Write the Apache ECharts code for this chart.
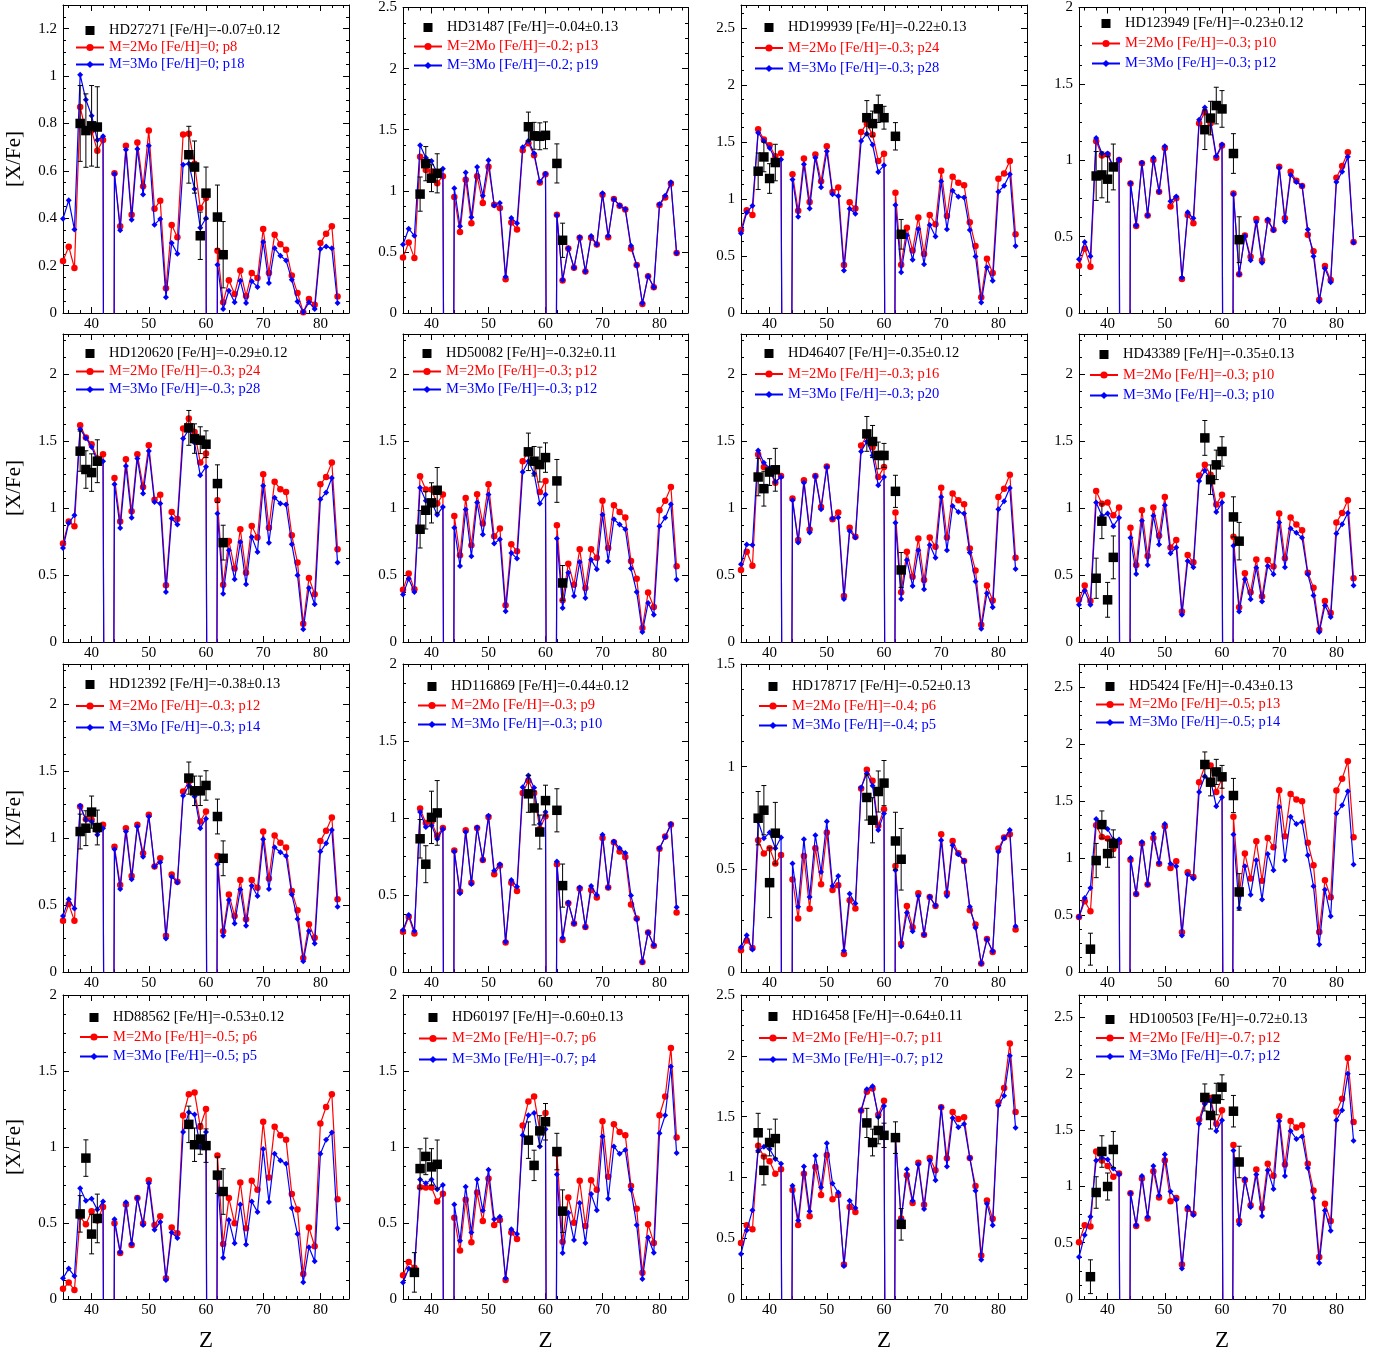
<!DOCTYPE html>
<html><head><meta charset="utf-8">
<script src="https://cdn.jsdelivr.net/npm/echarts@6/dist/echarts.min.js"></script>
<style>html,body{margin:0;padding:0;background:#fff}#c{width:1390px;height:1353px}</style>
</head><body><div id="c"></div>
<script>
// Atomic number Z of the model points
const Z = [35,36,37,38,39,40,41,42,43,44,45,46,47,48,49,50,51,52,53,54,55,56,57,58,59,60,61,62,63,64,65,66,67,68,69,70,71,72,73,74,75,76,77,78,79,80,81,82,83];

// Panel 1 HD27271
const red1 = [0.22,0.28,0.19,0.87,0.765,0.77,0.685,0.73,-10,0.59,0.366,0.706,0.415,0.72,0.535,0.77,0.44,0.474,0.104,0.371,0.32,0.753,0.757,0.63,0.443,0.485,-10,0.263,0.045,0.138,0.08,0.179,0.072,0.169,0.148,0.355,0.169,0.33,0.29,0.267,0.158,0.084,0.003,0.059,0.035,0.295,0.335,0.366,0.07];
const blue1 = [0.398,0.476,0.352,1.006,0.90,0.833,0.73,0.746,-10,0.587,0.349,0.689,0.394,0.692,0.50,0.706,0.373,0.397,0.066,0.295,0.25,0.626,0.63,0.523,0.36,0.40,-10,0.204,0.017,0.094,0.045,0.136,0.042,0.134,0.11,0.30,0.127,0.273,0.242,0.222,0.14,0.049,0.004,0.045,0.017,0.27,0.281,0.273,0.042];
const obsZ1 = [38,39,40,41,57,58,59,60,62,63];
const obsV1 = [0.80,0.77,0.79,0.785,0.668,0.616,0.326,0.506,0.405,0.246];
const obsE1 = [0.16,0.155,0.17,0.17,0.12,0.11,0.10,0.11,0.135,0.14];

// Panel 2 HD31487
const red2 = [0.454,0.576,0.451,1.278,1.17,1.157,1.062,1.12,-10,0.95,0.662,1.09,0.735,1.12,0.90,1.197,0.886,0.86,0.276,0.74,0.684,1.332,1.39,1.29,1.068,1.135,-10,0.803,0.265,0.527,0.37,0.616,0.34,0.616,0.56,0.967,0.62,0.932,0.878,0.846,0.527,0.392,0.073,0.30,0.21,0.884,0.946,1.06,0.49];
const blue2 = [0.56,0.69,0.632,1.373,1.27,1.243,1.143,1.18,-10,1.02,0.71,1.15,0.784,1.195,0.96,1.25,0.88,0.90,0.297,0.778,0.735,1.357,1.41,1.308,1.076,1.14,-10,0.80,0.27,0.53,0.37,0.62,0.34,0.63,0.56,0.98,0.63,0.93,0.88,0.85,0.55,0.39,0.08,0.30,0.21,0.89,0.96,1.07,0.49];
const obsZ2 = [38,39,40,41,57,58,59,60,62,63];
const obsV2 = [0.973,1.222,1.103,1.143,1.524,1.45,1.446,1.454,1.224,0.595];
const obsE2 = [0.14,0.14,0.11,0.16,0.12,0.11,0.11,0.11,0.16,0.14];

// Panel 3 HD199939
const red3 = [0.728,0.90,0.86,1.61,1.52,1.47,1.374,1.40,-10,1.217,0.897,1.354,0.972,1.39,1.156,1.461,1.06,1.10,0.42,0.97,0.917,1.587,1.66,1.563,1.333,1.397,-10,1.054,0.422,0.748,0.547,0.838,0.518,0.859,0.777,1.246,0.85,1.194,1.141,1.12,0.795,0.588,0.137,0.475,0.35,1.176,1.223,1.333,0.69];
const blue3 = [0.699,0.882,0.94,1.581,1.508,1.447,1.348,1.345,-10,1.17,0.844,1.304,0.917,1.362,1.103,1.418,1.042,1.025,0.373,0.914,0.87,1.508,1.572,1.476,1.237,1.295,-10,0.946,0.358,0.681,0.466,0.737,0.428,0.771,0.67,1.156,0.734,1.071,1.019,1.013,0.728,0.495,0.093,0.402,0.282,1.063,1.115,1.217,0.588];
const obsZ3 = [38,39,40,41,57,58,59,60,62,63];
const obsV3 = [1.243,1.368,1.179,1.319,1.712,1.66,1.79,1.712,1.549,0.69];
const obsE3 = [0.16,0.13,0.13,0.16,0.15,0.11,0.12,0.10,0.12,0.13];

// Panel 4 HD123949
const red4 = [0.309,0.42,0.303,1.124,1.031,1.038,0.951,1.001,-10,0.848,0.569,0.98,0.638,1.001,0.794,1.081,0.698,0.752,0.223,0.642,0.588,1.243,1.315,1.243,1.016,1.096,-10,0.783,0.253,0.508,0.368,0.616,0.346,0.605,0.545,0.958,0.62,0.925,0.865,0.832,0.512,0.404,0.086,0.307,0.216,0.886,0.962,1.053,0.465];
const blue4 = [0.352,0.465,0.372,1.146,1.044,1.044,0.958,1.005,-10,0.85,0.573,0.984,0.638,1.016,0.794,1.092,0.731,0.763,0.231,0.659,0.62,1.265,1.345,1.26,1.027,1.103,-10,0.778,0.253,0.504,0.346,0.595,0.329,0.612,0.541,0.951,0.599,0.904,0.858,0.832,0.547,0.372,0.076,0.292,0.201,0.858,0.925,1.023,0.461];
const obsZ4 = [38,39,40,41,57,58,59,60,62,63];
const obsV4 = [0.897,0.904,0.876,0.956,1.2,1.276,1.358,1.336,1.044,0.48];
const obsE4 = [0.16,0.15,0.15,0.15,0.13,0.11,0.12,0.12,0.13,0.15];

// Panel 5 HD120620
const red5 = [0.735,0.90,0.864,1.619,1.527,1.477,1.37,1.402,-10,1.225,0.90,1.365,0.976,1.402,1.158,1.469,1.063,1.10,0.423,0.971,0.919,1.594,1.669,1.569,1.34,1.407,-10,1.059,0.428,0.755,0.548,0.842,0.518,0.867,0.78,1.253,0.854,1.196,1.141,1.121,0.797,0.593,0.137,0.478,0.356,1.178,1.233,1.34,0.692];
const blue5 = [0.702,0.889,0.946,1.589,1.524,1.457,1.35,1.35,-10,1.178,0.852,1.315,0.927,1.37,1.108,1.427,1.046,1.034,0.374,0.922,0.877,1.519,1.587,1.487,1.245,1.308,-10,0.959,0.361,0.685,0.468,0.747,0.431,0.785,0.672,1.166,0.742,1.078,1.034,1.026,0.73,0.498,0.095,0.403,0.281,1.066,1.116,1.225,0.593];
const obsZ5 = [38,39,40,41,57,58,59,60,62,63];
const obsV5 = [1.425,1.288,1.265,1.35,1.599,1.519,1.507,1.477,1.183,0.742];
const obsE5 = [0.15,0.14,0.14,0.16,0.13,0.11,0.10,0.10,0.14,0.13];

// Panel 6 HD50082
const red6 = [0.391,0.511,0.394,1.238,1.138,1.138,1.034,1.101,-10,0.941,0.648,1.076,0.722,1.103,0.884,1.178,0.789,0.847,0.274,0.73,0.677,1.35,1.427,1.35,1.121,1.203,-10,0.872,0.311,0.585,0.428,0.692,0.403,0.692,0.63,1.054,0.702,1.021,0.971,0.929,0.605,0.473,0.105,0.369,0.262,0.984,1.054,1.158,0.565];
const blue6 = [0.354,0.473,0.374,1.151,1.054,1.046,0.951,1.009,-10,0.854,0.568,0.989,0.64,1.041,0.802,1.101,0.735,0.767,0.229,0.665,0.623,1.27,1.35,1.258,1.034,1.101,-10,0.772,0.254,0.518,0.344,0.598,0.329,0.615,0.543,0.951,0.603,0.917,0.877,0.842,0.548,0.374,0.075,0.291,0.204,0.864,0.927,1.029,0.466];
const obsZ6 = [38,39,40,41,57,58,59,60,62,63];
const obsV6 = [0.842,0.984,1.039,1.133,1.42,1.35,1.325,1.377,1.203,0.441];
const obsE6 = [0.14,0.14,0.15,0.17,0.14,0.11,0.13,0.11,0.16,0.13];

// Panel 7 HD46407
const red7 = [0.538,0.674,0.57,1.40,1.306,1.281,1.19,1.239,-10,1.071,0.761,1.207,0.84,1.239,1.009,1.311,0.917,0.967,0.344,0.853,0.786,1.467,1.542,1.455,1.232,1.306,-10,0.967,0.372,0.674,0.488,0.773,0.463,0.781,0.711,1.152,0.781,1.108,1.058,1.029,0.699,0.533,0.129,0.421,0.31,1.083,1.145,1.249,0.629];
const blue7 = [0.58,0.729,0.724,1.43,1.338,1.299,1.195,1.232,-10,1.058,0.743,1.19,0.818,1.237,0.991,1.306,0.922,0.929,0.322,0.828,0.781,1.423,1.497,1.393,1.17,1.232,-10,0.89,0.322,0.612,0.419,0.686,0.394,0.724,0.629,1.083,0.686,1.016,0.971,0.959,0.669,0.451,0.099,0.364,0.26,0.991,1.051,1.15,0.545];
const obsZ7 = [38,39,40,41,57,58,59,60,62,63];
const obsV7 = [1.232,1.145,1.269,1.286,1.554,1.497,1.393,1.393,1.125,0.538];
const obsE7 = [0.14,0.13,0.10,0.16,0.13,0.12,0.10,0.09,0.12,0.13];

// Panel 8 HD43389
const red8 = [0.315,0.421,0.307,1.128,1.033,1.041,0.947,1.004,-10,0.853,0.575,0.984,0.642,1.004,0.793,1.083,0.706,0.761,0.228,0.649,0.595,1.244,1.323,1.249,1.026,1.10,-10,0.786,0.26,0.513,0.372,0.617,0.34,0.612,0.563,0.959,0.625,0.929,0.877,0.835,0.518,0.406,0.092,0.307,0.216,0.892,0.964,1.058,0.476];
const blue8 = [0.278,0.382,0.278,1.041,0.942,0.959,0.865,0.927,-10,0.778,0.508,0.905,0.575,0.942,0.729,1.021,0.662,0.706,0.203,0.605,0.558,1.202,1.281,1.212,0.971,1.041,-10,0.719,0.228,0.468,0.32,0.555,0.302,0.568,0.506,0.892,0.558,0.848,0.815,0.778,0.506,0.347,0.074,0.273,0.186,0.81,0.88,0.964,0.421];
const obsZ8 = [38,39,40,41,57,58,59,60,62,63];
const obsV8 = [0.476,0.902,0.315,0.632,1.524,1.212,1.323,1.423,0.934,0.753];
const obsE8 = [0.15,0.13,0.13,0.16,0.13,0.11,0.11,0.11,0.15,0.14];

// Panel 9 HD12392
const red9 = [0.382,0.507,0.382,1.236,1.141,1.136,1.061,1.099,-10,0.936,0.649,1.074,0.717,1.099,0.886,1.174,0.787,0.849,0.27,0.729,0.674,1.348,1.423,1.348,1.124,1.199,-10,0.866,0.305,0.579,0.419,0.687,0.394,0.687,0.629,1.049,0.699,1.019,0.966,0.929,0.604,0.462,0.105,0.357,0.255,0.979,1.054,1.154,0.544];
const blue9 = [0.419,0.544,0.474,1.241,1.136,1.124,1.024,1.074,-10,0.916,0.619,1.049,0.692,1.086,0.861,1.161,0.787,0.819,0.25,0.712,0.669,1.316,1.391,1.311,1.074,1.144,-10,0.804,0.27,0.537,0.362,0.617,0.345,0.644,0.567,0.991,0.619,0.931,0.894,0.866,0.579,0.395,0.08,0.307,0.212,0.899,0.961,1.061,0.487];
const obsZ9 = [38,39,40,41,57,58,59,60,62,63];
const obsV9 = [1.049,1.074,1.194,1.079,1.448,1.353,1.353,1.393,1.161,0.849];
const obsE9 = [0.13,0.13,0.12,0.13,0.12,0.11,0.11,0.11,0.13,0.13];

// Panel 10 HD116869
const red10 = [0.261,0.359,0.25,1.061,0.967,0.974,0.885,0.935,-10,0.789,0.522,0.92,0.58,0.935,0.728,1.007,0.635,0.691,0.191,0.58,0.526,1.163,1.243,1.163,0.928,1.011,-10,0.70,0.207,0.446,0.315,0.543,0.293,0.533,0.483,0.87,0.548,0.843,0.783,0.746,0.439,0.348,0.065,0.257,0.17,0.80,0.88,0.957,0.387];
const blue10 = [0.272,0.37,0.267,1.039,0.941,0.952,0.863,0.928,-10,0.783,0.511,0.909,0.572,0.939,0.728,1.015,0.657,0.70,0.196,0.598,0.554,1.20,1.276,1.196,0.963,1.039,-10,0.717,0.222,0.452,0.315,0.548,0.293,0.559,0.50,0.891,0.548,0.848,0.804,0.772,0.496,0.343,0.065,0.257,0.174,0.804,0.876,0.961,0.42];
const obsZ10 = [38,39,40,41,57,58,59,60,62,63];
const obsV10 = [0.865,0.70,1.004,1.033,1.157,1.065,0.909,1.113,1.05,0.561];
const obsE10 = [0.125,0.12,0.17,0.21,0.12,0.11,0.11,0.10,0.14,0.14];

// Panel 11 HD178717
const red11 = [0.106,0.153,0.117,0.642,0.577,0.603,0.528,0.57,-10,0.451,0.261,0.565,0.308,0.603,0.427,0.679,0.399,0.422,0.088,0.349,0.309,0.894,0.985,0.932,0.712,0.793,-10,0.516,0.137,0.321,0.218,0.383,0.182,0.365,0.321,0.671,0.383,0.638,0.578,0.541,0.301,0.231,0.041,0.161,0.098,0.601,0.655,0.671,0.207];
const blue11 = [0.121,0.179,0.109,0.733,0.651,0.679,0.603,0.655,-10,0.529,0.318,0.647,0.365,0.666,0.487,0.733,0.419,0.467,0.104,0.381,0.334,0.899,0.967,0.907,0.692,0.772,-10,0.495,0.125,0.288,0.199,0.37,0.182,0.366,0.324,0.642,0.37,0.617,0.573,0.541,0.318,0.215,0.041,0.158,0.101,0.586,0.651,0.691,0.223];
const obsZ11 = [38,39,40,41,57,58,59,60,62,63];
const obsV11 = [0.749,0.788,0.435,0.676,0.85,0.739,0.879,0.92,0.638,0.549];
const obsE11 = [0.13,0.12,0.17,0.15,0.11,0.11,0.10,0.11,0.14,0.15];

// Panel 12 HD5424
const red12 = [0.482,0.62,0.532,1.287,1.184,1.17,1.079,1.14,-10,0.985,0.684,1.126,0.766,1.175,0.95,1.278,0.912,0.971,0.348,0.874,0.833,1.664,1.804,1.81,1.579,1.696,-10,1.36,0.684,1.038,0.819,1.146,0.801,1.175,1.094,1.594,1.19,1.561,1.512,1.497,1.132,0.936,0.351,0.804,0.655,1.591,1.693,1.848,1.181];
const blue12 = [0.482,0.649,0.737,1.342,1.287,1.254,1.161,1.161,-10,1.0,0.684,1.14,0.766,1.213,0.956,1.298,0.95,0.927,0.319,0.854,0.819,1.579,1.716,1.681,1.453,1.532,-10,1.205,0.561,0.927,0.678,0.98,0.635,1.035,0.892,1.447,0.98,1.36,1.298,1.316,1.023,0.751,0.24,0.722,0.488,1.389,1.462,1.585,0.942];
const obsZ12 = [37,38,39,40,41,57,58,59,60,62,63];
const obsV12 = [0.20,0.977,1.292,1.038,1.126,1.819,1.664,1.754,1.711,1.547,0.702];
const obsE12 = [0.14,0.15,0.12,0.12,0.12,0.11,0.12,0.11,0.10,0.15,0.16];

// Panel 13 HD88562
const red13 = [0.067,0.108,0.06,0.541,0.491,0.578,0.517,0.606,-10,0.498,0.302,0.621,0.356,0.664,0.496,0.782,0.487,0.545,0.136,0.47,0.433,1.207,1.347,1.358,1.134,1.25,-10,0.944,0.362,0.664,0.498,0.767,0.466,0.778,0.718,1.166,0.80,1.134,1.078,1.047,0.69,0.588,0.164,0.47,0.347,1.155,1.263,1.347,0.657];
const blue13 = [0.136,0.20,0.151,0.728,0.647,0.659,0.588,0.642,-10,0.524,0.308,0.636,0.362,0.664,0.487,0.761,0.455,0.506,0.125,0.437,0.401,1.099,1.228,1.213,0.998,1.099,-10,0.793,0.272,0.519,0.366,0.621,0.358,0.642,0.573,0.987,0.638,0.955,0.912,0.89,0.599,0.427,0.11,0.341,0.248,0.955,1.047,1.095,0.466];
const obsZ13 = [38,39,40,41,57,58,59,60,62,63];
const obsV13 = [0.56,0.927,0.427,0.53,1.149,1.015,1.052,1.009,0.815,0.707];
const obsE13 = [0.12,0.12,0.13,0.16,0.12,0.11,0.10,0.11,0.12,0.15];

// Panel 14 HD60197
const red14 = [0.157,0.244,0.205,0.735,0.733,0.733,0.642,0.692,-10,0.534,0.319,0.653,0.373,0.70,0.513,0.793,0.487,0.519,0.125,0.437,0.394,1.142,1.30,1.332,1.11,1.224,-10,0.955,0.377,0.668,0.502,0.778,0.481,0.782,0.718,1.17,0.804,1.149,1.099,1.078,0.744,0.593,0.172,0.491,0.369,1.209,1.332,1.651,1.063];
const blue14 = [0.108,0.20,0.19,0.787,0.761,0.787,0.722,0.75,-10,0.621,0.384,0.739,0.437,0.787,0.582,0.851,0.524,0.541,0.136,0.459,0.427,1.078,1.209,1.224,1.004,1.116,-10,0.819,0.302,0.567,0.388,0.631,0.369,0.69,0.584,1.069,0.659,1.004,0.955,0.981,0.718,0.487,0.131,0.405,0.304,1.091,1.209,1.53,0.961];
const obsZ14 = [37,38,39,40,41,57,58,59,60,62,63];
const obsV14 = [0.175,0.858,0.938,0.869,0.886,1.045,0.879,1.106,1.166,0.97,0.578];
const obsE14 = [0.13,0.13,0.12,0.12,0.16,0.12,0.10,0.10,0.12,0.12,0.14];

// Panel 15 HD16458
const red15 = [0.46,0.606,0.573,1.26,1.171,1.133,1.031,1.066,-10,0.896,0.608,1.031,0.681,1.085,0.856,1.184,0.821,0.856,0.283,0.756,0.716,1.55,1.704,1.731,1.515,1.631,-10,1.335,0.662,1.017,0.789,1.12,0.775,1.16,1.058,1.577,1.157,1.537,1.48,1.494,1.16,0.929,0.358,0.81,0.659,1.618,1.736,2.102,1.537];
const blue15 = [0.371,0.565,0.729,1.219,1.252,1.233,1.152,1.112,-10,0.931,0.646,1.09,0.721,1.179,0.918,1.281,0.95,0.875,0.272,0.808,0.748,1.55,1.725,1.75,1.497,1.588,-10,1.322,0.654,1.066,0.808,1.106,0.74,1.139,0.977,1.577,1.09,1.489,1.413,1.44,1.16,0.891,0.323,0.783,0.606,1.591,1.672,2.0,1.408];
const obsZ15 = [38,39,40,41,57,58,59,60,62,63];
const obsV15 = [1.367,1.058,1.287,1.319,1.448,1.287,1.386,1.346,1.327,0.614];
const obsE15 = [0.16,0.12,0.11,0.16,0.12,0.11,0.11,0.10,0.13,0.13];

// Panel 16 HD100503
const red16 = [0.504,0.655,0.643,1.31,1.231,1.182,1.086,1.115,-10,0.94,0.649,1.071,0.716,1.135,0.902,1.231,0.868,0.897,0.306,0.80,0.757,1.595,1.755,1.785,1.557,1.677,-10,1.368,0.693,1.057,0.833,1.15,0.809,1.202,1.095,1.624,1.194,1.581,1.523,1.543,1.202,0.964,0.373,0.847,0.693,1.662,1.779,2.14,1.572];
const blue16 = [0.373,0.568,0.731,1.231,1.255,1.24,1.159,1.109,-10,0.94,0.655,1.092,0.728,1.182,0.92,1.284,0.955,0.882,0.271,0.818,0.745,1.557,1.732,1.761,1.493,1.587,-10,1.319,0.664,1.066,0.818,1.106,0.737,1.144,0.978,1.581,1.092,1.493,1.421,1.444,1.164,0.897,0.32,0.786,0.606,1.587,1.677,2.0,1.406];
const obsZ16 = [37,38,39,40,41,57,58,59,60,62,63];
const obsV16 = [0.198,0.946,1.31,0.999,1.328,1.79,1.63,1.776,1.881,1.668,1.217];
const obsE16 = [0.15,0.14,0.14,0.12,0.16,0.12,0.12,0.14,0.11,0.14,0.14];

// Legend texts
const starLabels = ["HD27271 [Fe/H]=-0.07±0.12","HD31487 [Fe/H]=-0.04±0.13","HD199939 [Fe/H]=-0.22±0.13","HD123949 [Fe/H]=-0.23±0.12",
  "HD120620 [Fe/H]=-0.29±0.12","HD50082 [Fe/H]=-0.32±0.11","HD46407 [Fe/H]=-0.35±0.12","HD43389 [Fe/H]=-0.35±0.13",
  "HD12392 [Fe/H]=-0.38±0.13","HD116869 [Fe/H]=-0.44±0.12","HD178717 [Fe/H]=-0.52±0.13","HD5424 [Fe/H]=-0.43±0.13",
  "HD88562 [Fe/H]=-0.53±0.12","HD60197 [Fe/H]=-0.60±0.13","HD16458 [Fe/H]=-0.64±0.11","HD100503 [Fe/H]=-0.72±0.13"];
const redLabels = ["M=2Mo [Fe/H]=0; p8","M=2Mo [Fe/H]=-0.2; p13","M=2Mo [Fe/H]=-0.3; p24","M=2Mo [Fe/H]=-0.3; p10",
  "M=2Mo [Fe/H]=-0.3; p24","M=2Mo [Fe/H]=-0.3; p12","M=2Mo [Fe/H]=-0.3; p16","M=2Mo [Fe/H]=-0.3; p10",
  "M=2Mo [Fe/H]=-0.3; p12","M=2Mo [Fe/H]=-0.3; p9","M=2Mo [Fe/H]=-0.4; p6","M=2Mo [Fe/H]=-0.5; p13",
  "M=2Mo [Fe/H]=-0.5; p6","M=2Mo [Fe/H]=-0.7; p6","M=2Mo [Fe/H]=-0.7; p11","M=2Mo [Fe/H]=-0.7; p12"];
const blueLabels = ["M=3Mo [Fe/H]=0; p18","M=3Mo [Fe/H]=-0.2; p19","M=3Mo [Fe/H]=-0.3; p28","M=3Mo [Fe/H]=-0.3; p12",
  "M=3Mo [Fe/H]=-0.3; p28","M=3Mo [Fe/H]=-0.3; p12","M=3Mo [Fe/H]=-0.3; p20","M=3Mo [Fe/H]=-0.3; p10",
  "M=3Mo [Fe/H]=-0.3; p14","M=3Mo [Fe/H]=-0.3; p10","M=3Mo [Fe/H]=-0.4; p5","M=3Mo [Fe/H]=-0.5; p14",
  "M=3Mo [Fe/H]=-0.5; p5","M=3Mo [Fe/H]=-0.7; p4","M=3Mo [Fe/H]=-0.7; p12","M=3Mo [Fe/H]=-0.7; p12"];

// Y-axis ranges
const yMax  = [1.3,2.5,2.7,2, 2.3,2.3,2.3,2.3, 2.3,2,1.5,2.7, 2,2,2.5,2.7];
const yStep = [0.2,0.5,0.5,0.5, 0.5,0.5,0.5,0.5, 0.5,0.5,0.5,0.5, 0.5,0.5,0.5,0.5];

const reds  = [red1,red2,red3,red4,red5,red6,red7,red8,red9,red10,red11,red12,red13,red14,red15,red16];
const blues = [blue1,blue2,blue3,blue4,blue5,blue6,blue7,blue8,blue9,blue10,blue11,blue12,blue13,blue14,blue15,blue16];
const obsZs = [obsZ1,obsZ2,obsZ3,obsZ4,obsZ5,obsZ6,obsZ7,obsZ8,obsZ9,obsZ10,obsZ11,obsZ12,obsZ13,obsZ14,obsZ15,obsZ16];
const obsVs = [obsV1,obsV2,obsV3,obsV4,obsV5,obsV6,obsV7,obsV8,obsV9,obsV10,obsV11,obsV12,obsV13,obsV14,obsV15,obsV16];
const obsEs = [obsE1,obsE2,obsE3,obsE4,obsE5,obsE6,obsE7,obsE8,obsE9,obsE10,obsE11,obsE12,obsE13,obsE14,obsE15,obsE16];

// ---- layout (pixels) ----
const COL_L = [63, 403, 741, 1079];
const COL_W = [286, 285, 286, 286];
const ROW_T = [5, 334, 664, 995];
const ROW_H = 308;
// legend: [left offset of icon, center of first row from grid top, row pitch]
const LEG = [[12,24,17],[10,21,19],[13,21,20.5],[12,17,20],
             [12,18,18],[9,18,18],[13,18,20.5],[10,19,20.5],
             [12,19,21.5],[14,21,19],[17,21,19.5],[16,21,18],
             [16,21,19.5],[15,21,21],[17,20,21.5],[16,23,18.5]];

const FONT = "'Liberation Serif','Times New Roman',serif";
const RED = '#ff0000', BLUE = '#0000ff', BLK = '#000000';
// legend square icon: 9x9 square centred in a 28x9 box
const SQUARE_ICON = 'path://M0,0M28,9M9.5,0L18.5,0L18.5,9L9.5,9Z';

const option = {animation:false, backgroundColor:'#fff', grid:[], xAxis:[], yAxis:[], series:[], legend:[]};

function errRender(params, api){
  const x = api.value(0), y = api.value(1), e = api.value(2);
  const p = api.coord([x, y + e]);
  const q = api.coord([x, y - e]);
  const c = 2.5;
  const st = {stroke:BLK, lineWidth:1};
  return {type:'group', children:[
    {type:'line', shape:{x1:p[0], y1:p[1], x2:q[0], y2:q[1]}, style:st},
    {type:'line', shape:{x1:p[0]-c, y1:p[1], x2:p[0]+c, y2:p[1]}, style:st},
    {type:'line', shape:{x1:q[0]-c, y1:q[1], x2:q[0]+c, y2:q[1]}, style:st}
  ]};
}

for (let i = 0; i < 16; i++) {
  const r = Math.floor(i/4), c = i % 4;
  option.grid.push({left:COL_L[c], top:ROW_T[r], width:COL_W[c], height:ROW_H});
  const tickCommon = {inside:true, length:6, lineStyle:{color:BLK, width:1}};
  const xBase = {type:'value', gridIndex:i, min:35, max:85, splitNumber:5,
    axisLine:{show:true, onZero:false, lineStyle:{color:BLK, width:1}},
    axisTick:tickCommon,
    minorTick:{show:true, splitNumber:5, length:3, lineStyle:{color:BLK, width:1}},
    splitLine:{show:false}, minorSplitLine:{show:false}};
  option.xAxis.push(Object.assign({}, xBase, {position:'bottom',
    axisLabel:{color:BLK, fontFamily:FONT, fontSize:15, margin:4, showMinLabel:false, showMaxLabel:false},
    name: r === 3 ? 'Z' : '', nameLocation:'middle', nameGap:30,
    nameTextStyle:{color:BLK, fontFamily:FONT, fontSize:23}}));
  option.xAxis.push(Object.assign({}, xBase, {position:'top', axisLabel:{show:false}}));
  const isMult = Math.abs(yMax[i]/yStep[i] - Math.round(yMax[i]/yStep[i])) < 1e-6;
  const yBase = {type:'value', gridIndex:i, min:0, max:yMax[i], interval:yStep[i],
    axisLine:{show:true, onZero:false, lineStyle:{color:BLK, width:1}},
    axisTick:tickCommon,
    minorTick:{show:true, splitNumber:4, length:3, lineStyle:{color:BLK, width:1}},
    splitLine:{show:false}, minorSplitLine:{show:false}};
  option.yAxis.push(Object.assign({}, yBase, {position:'left',
    axisLabel:{color:BLK, fontFamily:FONT, fontSize:15, margin:6, showMaxLabel:isMult},
    name: c === 0 ? '[X/Fe]' : '', nameLocation:'middle', nameGap:38,
    nameTextStyle:{color:BLK, fontFamily:FONT, fontSize:21}}));
  option.yAxis.push(Object.assign({}, yBase, {position:'right', axisLabel:{show:false}}));

  const xi = 2*i, yi = 2*i;
  option.series.push({type:'line', name:redLabels[i], xAxisIndex:xi, yAxisIndex:yi,
    data: Z.map((z,k)=>[z, reds[i][k]]), symbol:'circle', symbolSize:6.5, clip:true,
    lineStyle:{color:RED, width:1.2}, itemStyle:{color:RED, opacity:1}, z:2, silent:true});
  option.series.push({type:'line', name:blueLabels[i], xAxisIndex:xi, yAxisIndex:yi,
    data: Z.map((z,k)=>[z, blues[i][k]]), symbol:'diamond', symbolSize:6, clip:true,
    lineStyle:{color:BLUE, width:1.2}, itemStyle:{color:BLUE, opacity:1}, z:3, silent:true});
  option.series.push({type:'custom', name:'err'+i, xAxisIndex:xi, yAxisIndex:yi,
    data: obsZs[i].map((z,k)=>[z, obsVs[i][k], obsEs[i][k]]),
    encode:{x:0, y:1}, renderItem:errRender, z:4, silent:true});
  option.series.push({type:'scatter', name:starLabels[i], xAxisIndex:xi, yAxisIndex:yi,
    data: obsZs[i].map((z,k)=>[z, obsVs[i][k]]), symbol:'rect', symbolSize:9.5,
    itemStyle:{color:BLK, opacity:1}, z:5, silent:true});

  option.legend.push({orient:'vertical', left:COL_L[c]+LEG[i][0], top:ROW_T[r]+LEG[i][1]-6,
    itemWidth:28, itemHeight:9, itemGap:LEG[i][2]-15, padding:0, selectedMode:false,
    textStyle:{fontFamily:FONT, fontSize:14.5, color:BLK},
    data:[{name:starLabels[i], icon:SQUARE_ICON, itemStyle:{color:BLK, opacity:1}, textStyle:{color:BLK}},
          {name:redLabels[i], textStyle:{color:RED}},
          {name:blueLabels[i], textStyle:{color:BLUE}}]});
}

const chart = echarts.init(document.getElementById('c'), null, {renderer:'canvas'});
chart.setOption(option);
</script></body></html>
